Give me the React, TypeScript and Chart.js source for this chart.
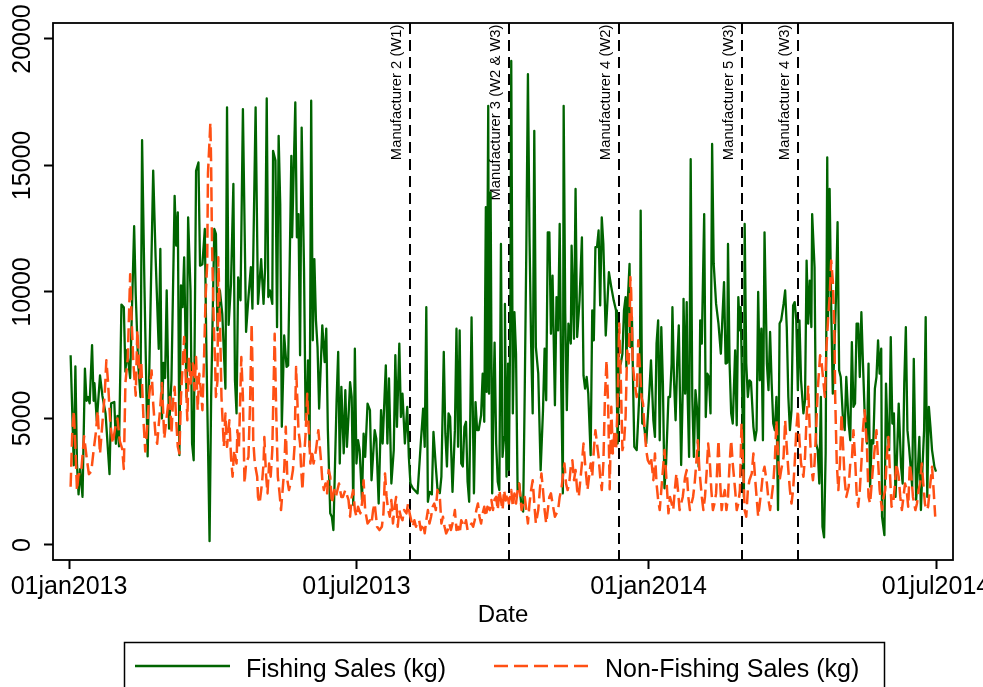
import React, { useEffect, useRef } from "react";
import { Chart, registerables } from "chart.js";

Chart.register(...registerables);

// Day offsets from 01jan2013 and kilograms sold
const fishingSales: [number, number][] = [
  [1,7500],[3,3150],[4,7060],[5,3200],[6,2000],[7,3000],[8.5,1900],[10,6970],[11,5700],[12,5850],[13,5600],[14.5,7900],[15.5,5700],[16,6400],[17.5,4900],[19.5,6700],[21,5900],[23,5200],[25.5,2800],[26.5,5600],[28.5,5650],[29.5,4000],[30.5,5100],[31.5,3900],[33,9500],[34.5,9400],[35.5,6850],[36.5,7700],[38.5,6600],[41,12600],[42,9900],[43.5,7200],[45,5850],[46,16000],[47.5,10200],[49.5,3500],[51.5,10000],[53,14800],[54.5,11400],[56.5,7750],[57.5,11700],[58.5,5000],[59.5,7200],[60.5,6600],[61.5,10060],[63,4600],
  [64.5,6510],[66.5,13800],[67.5,11830],[68.5,13150],[69.5,3550],[70.5,10260],[71.5,9400],[72.5,11370],[74,5850],[75,12950],[76.5,10060],[77.5,4010],[78.5,3350],[80,14790],[81.5,15120],[82.5,11040],[84,11100],[85.5,12490],[86.5,7690],[87.5,4010],[88.5,150],[89.5,5850],[91.5,12490],[92.5,12300],[93.5,8480],[95,10060],[96.5,9140],[98.5,6180],[99.5,17300],[100.5,8700],[102,10320],[103.5,14270],[104.5,6510],[105.5,5200],[106.5,10580],[108,9670],[109.5,17230],[111.5,8420],[113,9800],[114.5,10980],[115.5,9340],[117.5,17300],[119,9530],[121,11300],[122.5,9530],[123.5,10980],[124.5,17650],[125.5,9800],[126.5,10060],[128,9530],[128.5,15580],[130,15200],[131,8610],[132,16170],
  [133,13480],[134,4670],[135.5,8280],[137,7040],[138,7100],[140,15380],[140.5,12160],[142.5,17490],[143.5,12160],[144.5,13080],[145.5,7500],[146.5,16500],[148,10850],[149,4930],[150,5850],[150.5,7300],[151.5,3880],[152.5,17560],[153.5,8090],[154.5,11300],[155.5,8880],[156.5,7820],[157.5,5390],[159.5,8680],[161,7230],[162,8550],[163,4540],[164.5,1250],[165.5,1120],[166.5,590],[168.5,5720],[169.5,7630],[170.5,3220],[171.5,6250],[173,3620],[174,6120],[175,3880],[176,5060],[177,6440],[178,5850],[179,1580],[180,7760],[181,3220],[182,4140],[183,3750],[184.5,1780],[185.5,4400],[186.5,3480],[188,5590],[189.5,5330],[190.5,2560],[192.5,4540],[193.5,4200],[195,1640],[196.5,5330],[197.5,4010],[199.5,7100],[200.5,4010],[201.5,6580],
  [203,2430],[204.5,3750],[205.5,7500],[206.5,4670],[208,7960],[209,5060],[210,5980],[211.5,4010],[213,5460],[214,3480],[215,2430],[216.5,2240],[219.5,2040],[221.5,4010],[223,5390],[224,3880],[225,9400],[226,1710],[227,2100],[228.5,2000],[229.5,4470],[231,3090],[232,2240],[233.5,2050],[234.5,2700],[236,7630],[237,4400],[238,3100],[239,5200],[240,5060],[241.5,2100],[243,4540],[244,8550],[245,3880],[246,8480],[247,3220],[248,3100],[249,4670],[250,4870],[251,2500],[252,1710],[253.5,9000],[255,2040],[256,5650],[257,4540],[258,4540],[259.5,5130],[260.5,6770],[261.5,4870],[262.5,13350],[263,6050],[264,17360],[264.5,5980],[265.5,13940],[266.5,2040],[267.5,6380],[268,8000],
  [269,4000],[270,2500],[271,2170],[272,11900],[273,3480],[274,4270],[274.5,9530],[275.5,2700],[276.5,7170],[277,2960],[278,9800],[278.5,19130],[279.5,5200],[280.5,9200],[281.5,7560],[282.5,2170],[283.5,2430],[285,1510],[286,1320],[287,6120],[288,11770],[289,18610],[290,12160],[291,7960],[292,5200],[293,16370],[294,7820],[295.5,6770],[297,2960],[298.5,5330],[299.5,7760],[300.5,5720],[301.5,12360],[302.5,12360],[303.5,8350],[304.5,10650],[306,5520],[307,9800],[308,8480],[309,12690],[310,6120],[311,2040],[311.5,17360],[312.5,9140],[313.5,5330],[314.5,8750],[316,7960],[316.5,11830],[318,8150],[319,14070],[320,8220],[321.5,9670],[323,12160],[324,6700],[325,6180],[326,6640],[327,5980],[328.5,3550],[329.5,9270],[330.5,8090],[331.5,11770],[332.5,11770],[333.5,12430],[334.5,9470],[335.5,12950],[336.5,11900],[338,8280],
  [340,10780],[341.5,10190],[343,9670],[344.5,9270],[345,5850],[345.5,4010],[346.5,7040],[347.5,7170],[348.5,7560],[349.5,9270],[350.5,9800],[351,7040],[352,9800],[353,11110],[353.5,7820],[354.5,9010],[355.5,5460],[356,3880],[357.5,3750],[358.5,5060],[359.5,6380],[360,13220],[361,4800],[362,4800],[363.5,4010],[365.5,6120],[366.5,7300],[368,4930],[369,4270],[370,7960],[371,8880],[372,4140],[373,8610],[374,6380],[375,2240],[376,3220],[377.5,5850],[378.5,5850],[379.5,7170],[380,9400],[381,6510],[382,4930],[383,7170],[384,8680],[385.5,3160],[386.5,6120],[387,9730],[388,5980],[389,9600],[389.5,6120],[390.5,3480],[391.5,15250],[392.5,5850],[393.5,3480],[394.5,6120],[395.5,5390],[396.5,3090],[397.5,8880],[398.5,7960],[400,13080],[401,5060],[402,6770],[403,6640],[404,5200],[405,15850],[406,11110],[407.5,9530],
  [409,8750],[410.5,7560],[411.5,9000],[412.5,10390],[413.5,7170],[414.5,7200],[415,11900],[416,7170],[417,5200],[418,4800],[419.5,7690],[420.5,4730],[421.5,9800],[422.5,8480],[423,9400],[424,5850],[425,1900],[425.5,12690],[426.5,7170],[427.5,5850],[428.5,6510],[429.5,6440],[431,4670],[432,4140],[433,4540],[434,10000],[435,6510],[436,8550],[437,4140],[438,12360],[439.5,7170],[440.5,6120],[441.5,8420],[442.5,6380],[443.5,4800],[444.5,4540],[445.5,5850],[446.5,1380],[447.5,8750],[448.5,8880],[450,9530],[451,10060],[452,8610],[453,5850],[454,4540],[455,5330],[456,9470],[457,9600],[458,8880],[459,6120],[460,8880],[461,6510],[462.5,5200],[463.5,5720],[464.5,11240],[465.5,8750],[466.5,10450],[467.5,8610],[468,13080],[469.5,10980],[470.5,4010],[471.5,3750],[472.5,2430],[473.5,5850],[474.5,720],[475.5,300],[476.5,3620],[477.5,15320],
  [478,9010],[479,14070],[480,9400],[481,5980],[482,7690],[483,9800],[484,12760],[485,6900],[486,6640],[487.5,4870],[488.5,4540],[489.5,6640],[491,4800],[492,4140],[493,8020],[494,5460],[495,5590],[496,8750],[497,8750],[498,6640],[499,9200],[500,7170],[501,5330],[502.5,4010],[503.5,7170],[504.5,2300],[505.5,4140],[506.5,4010],[507.5,6180],[508.5,6640],[509.5,8090],[510.5,6770],[511.5,7760],[512,1120],[513.5,390],[514.5,6380],[515.5,4400],[516.5,3750],[517.5,8220],[518.5,4800],[519.5,5200],[520.5,1900],[521.5,3620],[522.5,5590],[524,3090],[525,2430],[526,6380],[527,8610],[528,4540],[529,3880],[530,3090],[531,2300],[532,7360],[533.5,1780],[534.5,2830],[535.5,4270],[536.5,1380],[537.5,3090],[538.5,4540],[539.5,9010],[540.5,1900],[541.5,5460],[542.5,4670],[543.5,3750],[545,3090],[546,2900],
];

const nonFishingSales: [number, number][] = [
  [1,2300],[2,4400],[3,5300],[4,3900],[5,2150],[6,2800],[7.5,2800],[9.5,4300],[11,3500],[12.5,2800],[14,2900],[15.5,3750],[17,4500],[18,5300],[19.5,3600],[21,4800],[22.5,6000],[23.5,7300],[24.5,6500],[26,4800],[27.5,4000],[29,4600],[30.5,5000],[32,4100],[33.5,3800],[34.5,3000],[35.5,6400],[37,7400],[38.5,10700],[39.5,8800],[40.5,7200],[42,5900],[43,8500],[44.5,6600],[45.5,7200],[47,4800],[48,3700],[49,4500],[50.5,5900],[52,6900],[53,5600],[54.5,4300],[55.5,4000],[57.5,5500],[58.5,6400],[60,4200],[61,4800],[62.5,5600],
  [63.5,5850],[64.5,4400],[65.5,5720],[66.5,6250],[67.5,4930],[68.5,3880],[69.5,3620],[70.5,5850],[71.5,7040],[72.5,8220],[73.5,6640],[74.5,4930],[75.5,7430],[76.5,6380],[78,7170],[79,6120],[80,7430],[81,5330],[82,6770],[83,6120],[84,5330],[85,7300],[86,9800],[87,11100],[87.5,14700],[88.5,16000],[89,16700],[89.5,15000],[90,12100],[91,9100],[92,7170],[92.5,5850],[93.5,6510],[94,11370],[95,9000],[96,5850],[97.5,3880],[98.5,5200],[99.5,3880],[101,4930],[102,3480],[103,2700],[104,3750],[105.5,3220],[106,4540],[107,3880],[108.5,7430],[109.5,5850],[110.5,2430],[111.5,3220],[113,3480],[114,5590],[115,8750],[115.5,7170],[116,4140],[117,3220],[118.5,2700],[119,1900],[120,1640],[121.5,2430],[122.5,3220],[123,4270],[124,2830],[125,2040],[126,3220],[127,2700],[128,3750],[129.5,8350],
  [130.5,5200],[131.5,2700],[132.5,2100],[133.5,1380],[134.5,2170],[135.5,2960],[136.5,4670],[137.5,2560],[138.5,2170],[140,2560],[141,2960],[142,3880],[143,7040],[144.5,4540],[145.5,4010],[146,3220],[147,2170],[148,3480],[149,4400],[150,5980],[151,4540],[152,3220],[153,3750],[154,3220],[155.5,3750],[157,4540],[158.5,3480],[159.5,2560],[160.5,2170],[161.5,2430],[162.5,2040],[163.5,2960],[164.5,2700],[165.5,1640],[167,2170],[168,1900],[170,2430],[171.5,1900],[172.5,1900],[174,2170],[176,1780],[177,1120],[178,1900],[179,2170],[180,1380],[181,1120],[182,1510],[183.5,1250],[184.5,1640],[185.5,2560],[186.5,1380],[188,850],[189.5,980],[190.5,850],[191.5,1380],[192.5,1640],[194,720],[195.5,590],[197,720],[198,1250],[199,2830],[200,1900],[201,1380],
  [202,1120],[203,1780],[204,850],[205,1500],[206,1900],[207,720],[208,1380],[209,1120],[210,980],[211,1380],[212.5,1250],[213.5,1640],[214.5,1250],[215.5,980],[216.5,720],[217.5,980],[218.5,720],[219.5,920],[220.5,980],[221.5,590],[223,850],[224,460],[225,980],[226,1380],[227,850],[228,1120],[229,1510],[230,1640],[231,1380],[232,2170],[233.5,1900],[234.5,850],[235.5,1120],[236.5,720],[237.5,460],[238.5,590],[239.5,850],[240.5,590],[242,980],[243,1380],[244,590],[245,720],[246,460],[247,980],[248,850],[249,720],[250,980],[251,590],[252,720],[253.5,850],[254.5,720],[255.5,980],[256.5,1380],[257.5,1640],[258.5,1120],[259.5,850],[260.5,1250],[261.5,1510],[262.5,1120],[263.5,1510],[265,1380],[266,1780],[267,1380],
  [268,1800],[269,1900],[270,1380],[271,2170],[272,1780],[273,1380],[274,2170],[275,1760],[276,2040],[277,1640],[278.5,2170],[279.5,1510],[280.5,2040],[281.5,1640],[282.5,2170],[283.5,2430],[285,1380],[286,1640],[287,1900],[288,1380],[289,850],[290,1640],[291,2170],[292,2560],[293,1640],[294,850],[295.5,1380],[296.5,2170],[297.5,2830],[298.5,2170],[299.5,1380],[300.5,850],[301.5,1380],[302.5,1900],[303.5,2040],[304.5,1640],[306,1120],[307,1250],[308,1380],[309,1900],[310,2170],[311,2700],[312,3220],[313,2430],[314,2170],[315,2430],[316,3090],[317,3350],[318,2560],[319,2960],[320,2170],[321,1900],[322,2560],[323,3220],[324,4010],[325,3220],[326.5,2170],[327.5,2700],[328.5,3220],[329.5,2700],[330.5,3750],[331.5,4540],[332.5,4010],[333.5,3480],[334.5,2700],[335.5,2170],[336.5,3220],[337.5,5850],[338.5,7300],
  [339.5,5590],[340.5,2200],[341.5,5460],[342.5,3620],[343.5,4540],[344.5,3750],[345.5,5720],[346.5,8750],[347.5,6510],[348.5,3750],[349.5,4010],[350.5,5060],[351.5,7690],[352.5,7170],[353.5,10590],[354,10060],[355,7170],[356,6510],[357.5,5850],[358.5,8090],[359.5,7040],[360.5,5850],[361.5,5590],[362.5,4540],[363.5,3750],[364.5,3350],[365.5,3220],[366.5,3480],[368,2560],[369,3620],[370,2430],[371,1780],[372,1380],[373,2170],[374,2960],[375,3750],[376,2830],[377.5,1250],[378.5,1900],[379.5,1640],[380.5,1380],[381.5,2170],[382.5,2830],[383.5,2170],[384.5,1380],[385.5,1640],[386.5,1900],[388,2700],[389,2960],[390,1900],[391,1380],[392,1640],[393,1900],[394,2430],[395,3220],[396,4140],[397,2960],[398.5,1900],[399.5,1380],[400.5,1900],[401.5,2830],[402.5,4010],[403.5,3350],[404.5,2170],[405.5,1380],[406.5,1640],[407.5,2040],
  [409,4140],[410,2560],[411,1380],[412,1900],[413,2170],[414,1380],[415,1900],[416,3220],[417,4140],[418,3220],[419.5,2170],[420.5,1380],[421.5,1640],[422.5,2170],[423.5,4800],[424.5,3220],[425.5,1380],[426.5,1120],[427.5,2170],[428.5,2560],[430,2830],[431,3620],[432,2700],[433,1900],[434,1120],[435,1640],[436,2170],[437,2830],[438,3090],[439.5,2430],[440.5,1780],[441.5,1380],[442.5,1900],[443.5,2430],[444.5,3350],[445.5,4930],[446.5,3620],[447.5,2560],[448.5,2960],[450,3480],[451,4930],[452,3880],[453,2960],[454,2170],[455,1640],[456,2170],[457,3220],[458,4540],[459,5330],[460,4140],[461,3220],[462.5,2700],[463.5,3480],[464.5,5060],[465.5,6250],[466.5,4540],[467.5,3090],[468.5,2560],[469.5,3220],[470.5,4540],[471.5,6120],[473,7500],[474,7170],[475,6510],[476,5850],[477,7820],[478,8880],
  [479,9800],[480,11240],[481,10450],[482,8480],[482.5,5850],[483.5,3220],[484.5,2170],[485.5,3220],[486.5,5200],[487.5,3880],[488.5,2560],[489.5,1900],[491,2300],[492,3220],[493,3350],[494,4540],[495,3480],[496,2040],[497,1510],[498,2170],[499,3220],[500,4540],[501,5330],[502.5,3880],[503.5,1900],[504.5,1640],[505.5,2430],[506.5,3220],[507.5,3880],[508.5,4540],[509.5,3350],[510.5,2170],[512,1380],[513,1900],[514,2170],[515,3480],[516,4270],[517,2830],[518,1510],[519,1640],[520,2300],[521,3220],[522.5,2700],[523.5,1900],[524.5,1380],[525.5,1900],[526.5,2430],[527.5,2170],[528.5,1510],[529.5,3220],[530.5,2700],[531.5,1900],[533,1380],[534,1640],[535,2170],[536,2430],[537,3220],[538,2430],[539,1640],[540,1380],[541,1510],[542,2170],[543.5,3090],[544.5,2170],[545.5,1120],
];

const seriesLabels = ["Fishing Sales (kg)", "Non-Fishing Sales (kg)"];
const xTickDays = [0, 181, 365, 546];
const xTickLabels = ["01jan2013", "01jul2013", "01jan2014", "01jul2014"];
const yTickValues = [0, 5000, 10000, 15000, 20000];
const yTickLabels = ["0", "5000", "10000", "15000", "20000"];
const eventDays = [215, 277, 346.5, 424, 459];
const eventLabels = [
  "Manufacturer 2 (W1)",
  "Manufacturer 3 (W2 & W3)",
  "Manufacturer 4 (W2)",
  "Manufacturer 5 (W3)",
  "Manufacturer 4 (W3)",
];

const FONT = '"Liberation Sans", Arial, Helvetica, sans-serif';
const GREEN = "rgb(0,100,0)";
const ORANGE = "rgb(255,80,20)";

const decorPlugin = {
  id: "decor",
  beforeDatasetsDraw(chart: any) {
    const { ctx, chartArea: a, scales } = chart;
    const x = scales.x;
    ctx.save();
    ctx.strokeStyle = "#000";
    ctx.lineWidth = 2;
    ctx.setLineDash([11, 6]);
    eventDays.forEach((d) => {
      const px = Math.round(x.getPixelForValue(d));
      ctx.beginPath();
      ctx.moveTo(px, a.top);
      ctx.lineTo(px, a.bottom);
      ctx.stroke();
    });
    ctx.setLineDash([]);
    ctx.fillStyle = "#000";
    ctx.font = `14.8px ${FONT}`;
    ctx.textAlign = "right";
    ctx.textBaseline = "alphabetic";
    eventDays.forEach((d, i) => {
      const px = Math.round(x.getPixelForValue(d));
      ctx.save();
      ctx.translate(px - 9, a.top + 1.5);
      ctx.rotate(-Math.PI / 2);
      ctx.fillText(eventLabels[i], 0, 0);
      ctx.restore();
    });
    ctx.restore();
  },
  afterDraw(chart: any) {
    const { ctx, chartArea: a } = chart;
    ctx.save();
    ctx.strokeStyle = "#000";
    ctx.lineWidth = 1.8;
    ctx.strokeRect(a.left, a.top, a.right - a.left, a.bottom - a.top);

    // legend
    ctx.lineWidth = 1.5;
    ctx.strokeRect(124.5, 642.5, 760, 60);
    ctx.lineWidth = 2.5;
    ctx.strokeStyle = GREEN;
    ctx.beginPath();
    ctx.moveTo(135, 666);
    ctx.lineTo(230, 666);
    ctx.stroke();
    ctx.strokeStyle = ORANGE;
    ctx.setLineDash([14, 6]);
    ctx.beginPath();
    ctx.moveTo(494, 666);
    ctx.lineTo(589, 666);
    ctx.stroke();
    ctx.setLineDash([]);
    ctx.fillStyle = "#000";
    ctx.font = `25px ${FONT}`;
    ctx.textAlign = "left";
    ctx.textBaseline = "alphabetic";
    ctx.fillText(seriesLabels[0], 246, 676.5);
    ctx.fillText(seriesLabels[1], 605, 676.5);
    ctx.restore();
  },
};

export default function App() {
  const ref = useRef<HTMLCanvasElement | null>(null);

  useEffect(() => {
    document.body.style.margin = "0";
    const canvas = ref.current;
    if (!canvas) return;
    const tickFont = { family: FONT, size: 25 };
    const chart = new Chart(canvas, {
      type: "line",
      data: {
        datasets: [
          {
            label: seriesLabels[0],
            data: fishingSales.map(([d, v]) => ({ x: d, y: v })),
            borderColor: GREEN,
            borderWidth: 2.3,
            pointRadius: 0,
            tension: 0,
            fill: false,
            borderJoinStyle: "round",
            order: 2,
          },
          {
            label: seriesLabels[1],
            data: nonFishingSales.map(([d, v]) => ({ x: d, y: v })),
            borderColor: ORANGE,
            borderWidth: 2.5,
            borderDash: [14, 6],
            pointRadius: 0,
            tension: 0,
            fill: false,
            borderJoinStyle: "round",
            order: 1,
          },
        ],
      },
      options: {
        animation: false,
        responsive: false,
        devicePixelRatio: 1,
        events: [],
        layout: { autoPadding: false, padding: { left: 0, right: 30, top: 23, bottom: 47 } },
        plugins: { legend: { display: false }, tooltip: { enabled: false } },
        scales: {
          x: {
            type: "linear",
            min: -10.1,
            max: 556.7,
            afterBuildTicks: (s: any) => {
              s.ticks = xTickDays.map((v) => ({ value: v }));
            },
            afterFit: (s: any) => {
              s.height = 80;
              s.paddingLeft = 0;
              s.paddingRight = 0;
            },
            ticks: {
              autoSkip: false,
              minRotation: 0,
              maxRotation: 0,
              padding: 3,
              color: "#000",
              font: tickFont,
              callback: (_v: any, i: number) => xTickLabels[i],
            },
            grid: {
              display: true,
              drawOnChartArea: false,
              drawTicks: true,
              tickLength: 9,
              tickColor: "#000",
              tickWidth: 2,
            },
            border: { display: false },
            title: {
              display: true,
              text: "Date",
              color: "#000",
              font: { family: FONT, size: 24 },
              padding: { top: 0, bottom: 10 },
            },
          },
          y: {
            type: "linear",
            min: -593,
            max: 20632,
            afterBuildTicks: (s: any) => {
              s.ticks = yTickValues.map((v) => ({ value: v }));
            },
            afterFit: (s: any) => {
              s.width = 53;
              s.paddingTop = 0;
              s.paddingBottom = 0;
            },
            ticks: {
              autoSkip: false,
              minRotation: 90,
              maxRotation: 90,
              crossAlign: "center",
              padding: -14,
              color: "#000",
              font: tickFont,
              callback: (_v: any, i: number) => yTickLabels[i],
            },
            grid: {
              display: true,
              drawOnChartArea: false,
              drawTicks: true,
              tickLength: 9,
              tickColor: "#000",
              tickWidth: 2,
            },
            border: { display: false },
          },
        },
      } as any,
      plugins: [decorPlugin],
    });
    return () => chart.destroy();
  }, []);

  return (
    <div style={{ position: "absolute", left: 0, top: 0, width: 983, height: 687, background: "#fff" }}>
      <canvas ref={ref} width={983} height={687} style={{ width: 983, height: 687, display: "block" }} />
    </div>
  );
}
